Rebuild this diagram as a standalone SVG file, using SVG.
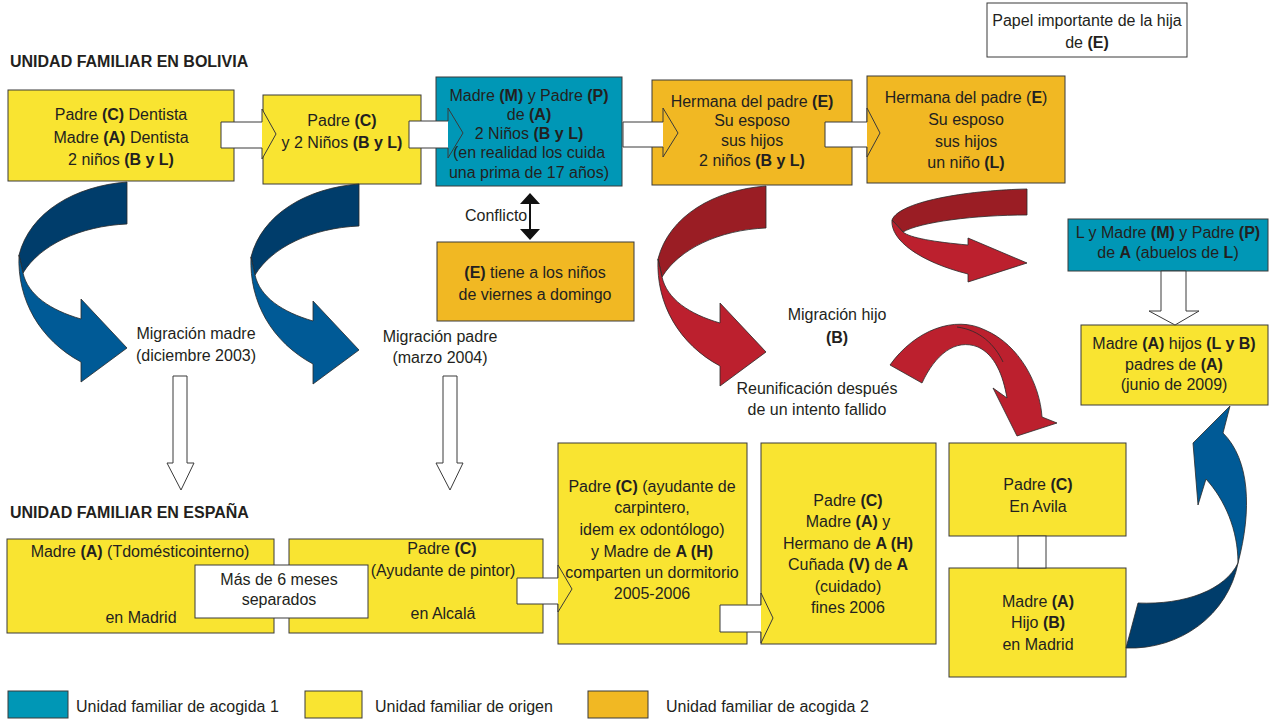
<svg xmlns="http://www.w3.org/2000/svg" width="1269" height="721" viewBox="0 0 1269 721">
<style>
  text{font-family:"Liberation Sans",Arial,sans-serif;font-size:16px;fill:#231f20;text-anchor:middle}
  .b{font-weight:bold}
  .h{font-weight:bold;text-anchor:start}
  .l{text-anchor:start}
  .box{stroke:#3a3a3a;stroke-width:1}
  .y{fill:#f9e431}
  .t{fill:#0097b6}
  .o{fill:#f1b823}
  .w{fill:#ffffff}
  .arr{stroke:#3a3a3a;stroke-width:1;stroke-linejoin:miter}
  .rib{stroke:#2a2a2a;stroke-width:0.8;stroke-linejoin:round}
</style>
<defs>
  <g id="curl">
    <path fill="currentColor" d="M127,182 C75,186 30,212 19,255 L23,273 C40,245 80,226 127,224 Z"/>
    <path d="M19,255 C17,300 40,340 81,362 L81,382 L127,348 L81,299 L81,319 C50,310 28,295 23,273 Z"/>
  </g>
</defs>

<text class="h" x="10" y="67">UNIDAD FAMILIAR EN BOLIVIA</text>
<text class="h" x="10" y="518">UNIDAD FAMILIAR EN ESPAÑA</text>

<g id="n-papel">
  <rect class="box w" x="987" y="3" width="200" height="54"/>
  <text x="1087" y="26">Papel importante de la hija</text>
  <text x="1087" y="48">de <tspan class="b">(E)</tspan></text>
</g>

<g id="n-b1">
  <rect class="box y" x="8" y="90" width="226" height="91"/>
  <text x="121" y="120">Padre <tspan class="b">(C)</tspan> Dentista</text>
  <text x="121" y="143">Madre <tspan class="b">(A)</tspan> Dentista</text>
  <text x="121" y="165">2 niños <tspan class="b">(B y L)</tspan></text>
</g>
<g id="n-b2">
  <rect class="box y" x="263" y="95" width="158" height="89"/>
  <text x="342" y="126">Padre <tspan class="b">(C)</tspan></text>
  <text x="342" y="148">y 2 Niños <tspan class="b">(B y L)</tspan></text>
</g>
<g id="n-b3">
  <rect class="box t" x="436" y="77" width="186" height="109"/>
  <text x="529" y="101">Madre <tspan class="b">(M)</tspan> y Padre <tspan class="b">(P)</tspan></text>
  <text x="529" y="120">de <tspan class="b">(A)</tspan></text>
  <text x="529" y="139">2 Niños <tspan class="b">(B y L)</tspan></text>
  <text x="529" y="158">(en realidad los cuida</text>
  <text x="529" y="178">una prima de 17 años)</text>
</g>
<g id="n-b4">
  <rect class="box o" x="652" y="80" width="200" height="105"/>
  <text x="752" y="107">Hermana del padre <tspan class="b">(E)</tspan></text>
  <text x="752" y="126">Su esposo</text>
  <text x="752" y="146">sus hijos</text>
  <text x="752" y="166">2 niños <tspan class="b">(B y L)</tspan></text>
</g>
<g id="n-b5">
  <rect class="box o" x="867" y="76" width="198" height="107"/>
  <text x="966" y="103">Hermana del padre (<tspan class="b">E</tspan>)</text>
  <text x="966" y="125">Su esposo</text>
  <text x="966" y="147">sus hijos</text>
  <text x="966" y="168">un niño <tspan class="b">(L)</tspan></text>
</g>
<g id="n-e">
  <rect class="box o" x="437" y="242" width="197" height="79"/>
  <text x="535" y="278"><tspan class="b">(E)</tspan> tiene a los niños</text>
  <text x="535" y="300">de viernes a domingo</text>
</g>
<g id="n-abuelos">
  <rect class="box t" x="1068" y="219" width="200" height="52"/>
  <text x="1168" y="238">L y Madre <tspan class="b">(M)</tspan> y Padre <tspan class="b">(P)</tspan></text>
  <text x="1168" y="258">de <tspan class="b">A</tspan> (abuelos de <tspan class="b">L</tspan>)</text>
</g>
<g id="n-2009">
  <rect class="box y" x="1081" y="325" width="187" height="80"/>
  <text x="1174" y="349">Madre <tspan class="b">(A)</tspan> hijos <tspan class="b">(L y B)</tspan></text>
  <text x="1174" y="370">padres de <tspan class="b">(A)</tspan></text>
  <text x="1174" y="390">(junio de 2009)</text>
</g>

<g id="n-sA">
  <rect class="box y" x="7" y="539" width="267" height="94"/>
  <text x="140" y="557">Madre <tspan class="b">(A)</tspan> (Tdomésticointerno)</text>
  <text x="141" y="623">en Madrid</text>
</g>
<g id="n-sC">
  <rect class="box y" x="289" y="539" width="254" height="94"/>
  <text x="442" y="554">Padre <tspan class="b">(C)</tspan></text>
  <text x="443" y="576">(Ayudante de pintor)</text>
  <text x="443" y="619">en Alcalá</text>
</g>
<g id="n-sep">
  <rect class="box w" x="195" y="565" width="173" height="53"/>
  <text x="279" y="585">Más de 6 meses</text>
  <text x="279" y="605">separados</text>
</g>
<g id="n-ayud">
  <rect class="box y" x="558" y="443" width="189" height="201"/>
  <text x="652" y="492">Padre <tspan class="b">(C)</tspan> (ayudante de</text>
  <text x="652" y="513">carpintero,</text>
  <text x="652" y="535">idem ex odontólogo)</text>
  <text x="652" y="557">y Madre de <tspan class="b">A (H)</tspan></text>
  <text x="652" y="578">comparten un dormitorio</text>
  <text x="652" y="599">2005-2006</text>
</g>
<g id="n-hermano">
  <rect class="box y" x="761" y="443" width="175" height="201"/>
  <text x="848" y="506">Padre <tspan class="b">(C)</tspan></text>
  <text x="848" y="527">Madre <tspan class="b">(A)</tspan> y</text>
  <text x="848" y="549">Hermano de <tspan class="b">A (H)</tspan></text>
  <text x="848" y="570">Cuñada <tspan class="b">(V)</tspan> de <tspan class="b">A</tspan></text>
  <text x="848" y="592">(cuidado)</text>
  <text x="848" y="613">fines 2006</text>
</g>
<g id="n-avila">
  <rect class="box y" x="949" y="443" width="177" height="93"/>
  <text x="1038" y="490">Padre <tspan class="b">(C)</tspan></text>
  <text x="1038" y="512">En Avila</text>
</g>
<g id="n-madrid">
  <rect class="box y" x="949" y="568" width="177" height="109"/>
  <text x="1038" y="607">Madre <tspan class="b">(A)</tspan></text>
  <text x="1038" y="628">Hijo <tspan class="b">(B)</tspan></text>
  <text x="1038" y="650">en  Madrid</text>
</g>

<g id="connectors">
  <!-- block arrows -->
  <path class="arr w" d="M263,122 H221 V148 H263"/>
  <path class="arr y" d="M262,122 V109 L276,134 L262,159 V148"/>
  <path class="arr w" d="M449,121 H409 V148 H449"/>
  <path class="arr t" d="M448,121 V108 L463,133 L448,158 V148"/>
  <path class="arr w" d="M664,122 H623 V147 H664"/>
  <path class="arr o" d="M663,122 V108 L678,133 L663,157 V147"/>
  <path class="arr w" d="M868,122 H825 V147 H868"/>
  <path class="arr o" d="M867,122 V108 L880,133 L867,157 V147"/>
  <path class="arr w" d="M559,578 H517 V604 H559"/>
  <path class="arr y" d="M558,578 V565 L572,589 L558,612 V604"/>
  <path class="arr w" d="M762,605 H720 V632 H762"/>
  <path class="arr y" d="M761,605 V593 L773,618 L761,643 V632"/>

  <!-- hollow down arrows -->
  <path class="arr w" d="M173,376 H187 V463 H194 L181,490 L167,463 H173 Z"/>
  <path class="arr w" d="M443,376 H457 V463 H463 L450,490 L436,463 H443 Z"/>
  <path class="arr w" d="M1161,271 H1186 V311 H1199 L1175,325 L1149,311 H1161 Z"/>
  <rect class="arr w" x="1018" y="536" width="28" height="32"/>

  <!-- conflict double arrow -->
  <line x1="530" y1="200" x2="530" y2="233" stroke="#111" stroke-width="2"/>
  <path d="M530,193 L540,204 L520,204 Z M530,240 L540,229 L520,229 Z" fill="#111"/>

  <!-- curved ribbons -->
  <g class="rib">
    <use href="#curl" fill="#005a96" color="#003d6b"/>
    <use href="#curl" transform="translate(232,2)" fill="#005a96" color="#003d6b"/>
    <use href="#curl" transform="translate(639,4)" fill="#bc202e" color="#9a1d24"/>
    <path fill="#9a1d24" d="M1027,189 C975,190 900,200 892,220 L903,232 C920,222 975,215 1027,215 Z"/>
    <path fill="#bc202e" d="M892,220 C890,240 920,262 968,274 L968,282 L1027,263 L968,238 L968,245 C935,242 910,238 903,232 Z"/>
    <path fill="#bc202e" d="M890,365 C915,330 955,315 985,330 C1020,345 1040,385 1042,417 L1057,423 L1017,436 L993,388 L1007,398 C1003,375 995,355 978,347 C955,338 935,355 922,383 Z"/>
    <path fill="none" d="M957,327 C980,330 995,345 1003,362"/>
    <path fill="#003d6b" d="M1138,603 C1185,605 1225,590 1238,563 C1228,615 1180,650 1126,648 Z"/>
    <path fill="#005a96" d="M1238,563 C1252,510 1250,460 1223,433 L1230,406 L1193,443 L1198,505 L1206,479 C1225,500 1238,530 1238,563 Z"/>
  </g>
</g>

<text class="l" x="465" y="221">Conflicto</text>
<text x="196" y="339">Migración madre</text>
<text x="196" y="361">(diciembre 2003)</text>
<text x="440" y="342">Migración padre</text>
<text x="440" y="363">(marzo 2004)</text>
<text x="837" y="320">Migración hijo</text>
<text class="b" x="837" y="343">(B)</text>
<text x="817" y="394">Reunificación después</text>
<text x="817" y="415">de un intento fallido</text>

<g id="legend">
  <rect class="box t" x="8" y="691" width="60" height="27"/>
  <text class="l" x="76" y="712">Unidad familiar de acogida 1</text>
  <rect class="box y" x="305" y="691" width="57" height="27"/>
  <text class="l" x="375" y="712">Unidad familiar de origen</text>
  <rect class="box o" x="588" y="691" width="60" height="27"/>
  <text class="l" x="666" y="712">Unidad familiar de acogida 2</text>
</g>
</svg>
